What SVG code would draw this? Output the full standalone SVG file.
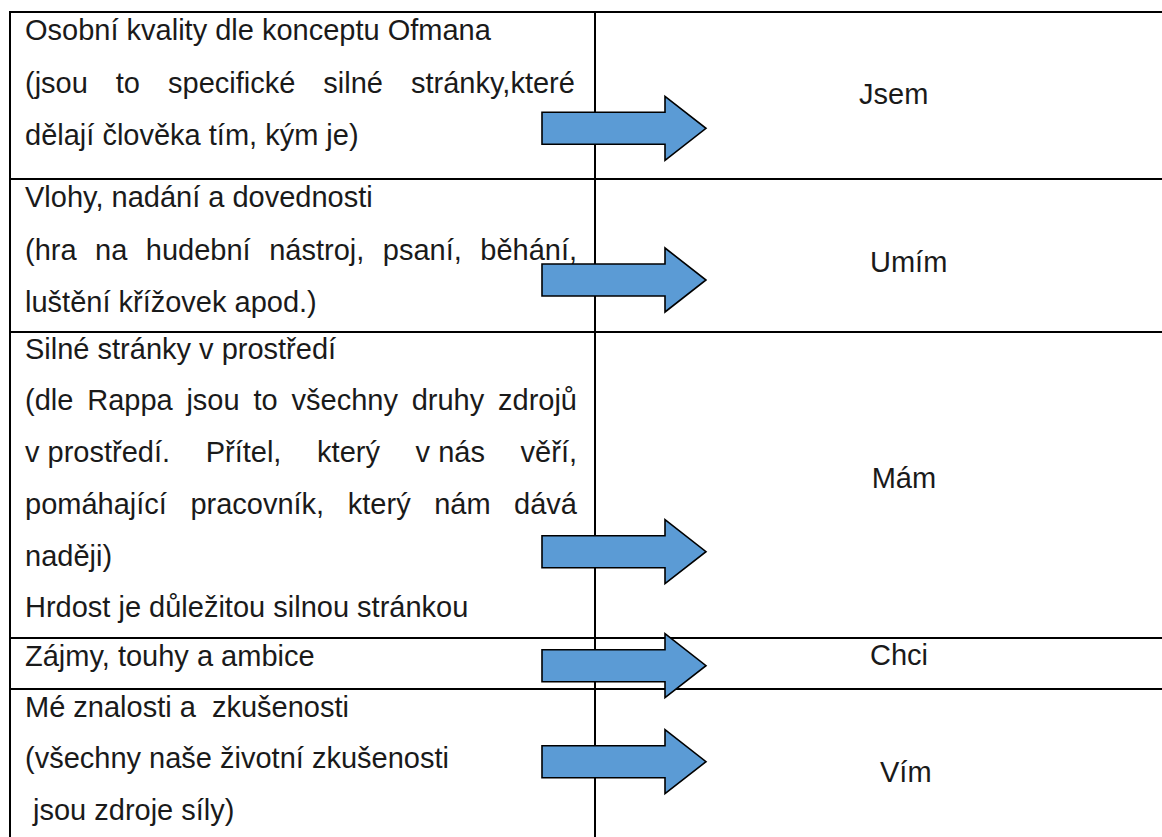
<svg xmlns="http://www.w3.org/2000/svg" width="1162" height="837" viewBox="0 0 1162 837">
  <style>
    text { font-family: "Liberation Sans", Arial, sans-serif; font-size: 29px; fill: #1a1a1a; }
    .grid { stroke: #000; stroke-width: 2; fill: none; }
    .arrow { fill: #5b9bd5; stroke: #000; stroke-width: 1.6; stroke-linejoin: miter; }
  </style>
  <defs>
    <!-- block arrow centred on y = 0 -->
    <path id="block-arrow" class="arrow" d="M542,-16 H665 V-32 L706,0 L665,32 V16 H542 Z"/>
  </defs>

  <rect width="1162" height="837" fill="#fff"/>

  <!-- table rules -->
  <g id="table" class="grid">
    <line x1="10" y1="12" x2="1162" y2="12"/>
    <line x1="10" y1="11" x2="10" y2="837"/>
    <line x1="595" y1="12" x2="595" y2="837"/>
    <line x1="10" y1="179" x2="1162" y2="179"/>
    <line x1="10" y1="332" x2="1162" y2="332"/>
    <line x1="10" y1="638" x2="1162" y2="638"/>
    <line x1="10" y1="689" x2="1162" y2="689"/>
  </g>

  <!-- row 1 -->
  <g id="row-jsem">
    <text x="25" y="40">Osobní kvality dle konceptu Ofmana</text>
    <text y="92.5"><tspan x="25">(jsou</tspan><tspan x="115.8">to</tspan><tspan x="168">specifické</tspan><tspan x="323.3">silné</tspan><tspan x="411">stránky,které</tspan></text>
    <text x="25" y="145">dělají člověka tím, kým je)</text>
    <text x="859" y="104">Jsem</text>
  </g>

  <!-- row 2 -->
  <g id="row-umim">
    <text x="25" y="207">Vlohy, nadání a dovednosti</text>
    <text y="259.5"><tspan x="25">(hra</tspan><tspan x="95.1">na</tspan><tspan x="145.8">hudební</tspan><tspan x="269.2">nástroj,</tspan><tspan x="382.8">psaní,</tspan><tspan x="480.3">běhání,</tspan></text>
    <text x="25" y="312">luštění křížovek apod.)</text>
    <text x="870" y="271.7">Umím</text>
  </g>

  <!-- row 3 -->
  <g id="row-mam">
    <text x="25" y="358.5">Silné stránky v prostředí</text>
    <text y="410"><tspan x="25">(dle</tspan><tspan x="87.2">Rappa</tspan><tspan x="186.4">jsou</tspan><tspan x="253.5">to</tspan><tspan x="291.5">všechny</tspan><tspan x="411.7">druhy</tspan><tspan x="498">zdrojů</tspan></text>
    <text y="462"><tspan x="25">v prostředí.</tspan><tspan x="205.7">Přítel,</tspan><tspan x="317.1">který</tspan><tspan x="415.6">v nás</tspan><tspan x="520.6">věří,</tspan></text>
    <text y="513.5"><tspan x="25">pomáhající</tspan><tspan x="190.4">pracovník,</tspan><tspan x="347.8">který</tspan><tspan x="434.2">nám</tspan><tspan x="514.1">dává</tspan></text>
    <text x="25" y="566">naději)</text>
    <text x="25" y="617">Hrdost je důležitou silnou stránkou</text>
    <text x="871.7" y="488.3">Mám</text>
  </g>

  <!-- row 4 -->
  <g id="row-chci">
    <text x="25" y="666">Zájmy, touhy a ambice</text>
    <text x="870" y="665">Chci</text>
  </g>

  <!-- row 5 -->
  <g id="row-vim">
    <text x="25" y="716.5" xml:space="preserve">Mé znalosti a  zkušenosti</text>
    <text x="25" y="768">(všechny naše životní zkušenosti</text>
    <text x="33" y="820">jsou zdroje síly)</text>
    <text x="880" y="781.7">Vím</text>
  </g>

  <!-- arrows linking each description to its label -->
  <g id="connectors">
    <use href="#block-arrow" y="128.3"/>
    <use href="#block-arrow" y="280"/>
    <use href="#block-arrow" y="551.7"/>
    <use href="#block-arrow" y="665.7"/>
    <use href="#block-arrow" y="761.7"/>
  </g>
</svg>
